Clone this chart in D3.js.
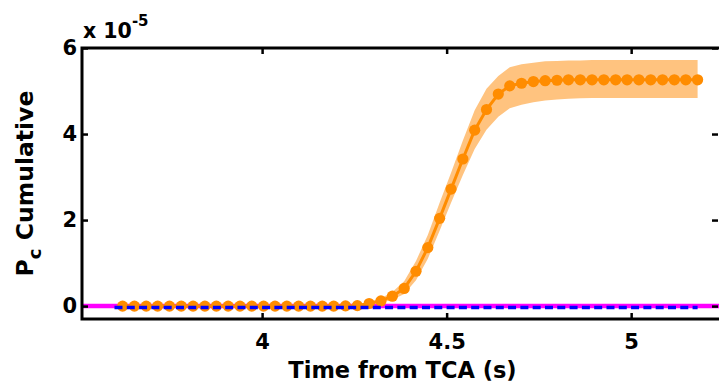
<!DOCTYPE html>
<html>
<head>
<meta charset="utf-8">
<script src="https://cdn.jsdelivr.net/npm/d3@7"></script>
<style>
  body { margin: 0; background: #fff; }
  text { font-family: "DejaVu Sans", "Liberation Sans", Arial, sans-serif; font-weight: bold; }
</style>
</head>
<body>
<script>
const width = 719;
const height = 386;

// time from TCA (s)
const times = [3.622, 3.654, 3.686, 3.717, 3.749, 3.781, 3.813, 3.845, 3.876, 3.908,
               3.940, 3.972, 4.004, 4.035, 4.067, 4.099, 4.131, 4.163, 4.194, 4.226,
               4.258, 4.290, 4.322, 4.353, 4.385, 4.417, 4.449, 4.481, 4.512, 4.544,
               4.576, 4.608, 4.640, 4.671, 4.703, 4.735, 4.767, 4.799, 4.830, 4.862,
               4.894, 4.926, 4.958, 4.989, 5.021, 5.053, 5.085, 5.117, 5.148, 5.180];

// cumulative Pc, units of 1e-5
const pcMean = [0, 0, 0, 0, 0, 0, 0, 0, 0, 0,
                0, 0, 0, 0, 0, 0, 0, 0, 0, 0.005,
                0.01, 0.06, 0.12, 0.23, 0.41, 0.81, 1.36, 2.04, 2.72, 3.42,
                4.09, 4.57, 4.93, 5.12, 5.18, 5.22, 5.24, 5.25, 5.26, 5.26,
                5.26, 5.26, 5.26, 5.26, 5.26, 5.26, 5.26, 5.26, 5.26, 5.26];
const pcLow  = [0, 0, 0, 0, 0, 0, 0, 0, 0, 0,
                0, 0, 0, 0, 0, 0, 0, 0, 0, 0,
                0, 0.03, 0.08, 0.15, 0.28, 0.6, 1.1, 1.75, 2.4, 3.05,
                3.65, 4.1, 4.4, 4.6, 4.68, 4.74, 4.78, 4.80, 4.82, 4.83,
                4.84, 4.84, 4.84, 4.84, 4.84, 4.84, 4.84, 4.84, 4.84, 4.84];
const pcHigh = [0, 0, 0, 0, 0, 0, 0, 0, 0, 0,
                0, 0, 0, 0, 0, 0, 0, 0, 0.005, 0.01,
                0.03, 0.10, 0.18, 0.33, 0.58, 1.05, 1.65, 2.4, 3.1, 3.85,
                4.55, 5.05, 5.35, 5.55, 5.62, 5.66, 5.69, 5.70, 5.71, 5.71,
                5.72, 5.72, 5.72, 5.72, 5.72, 5.72, 5.72, 5.72, 5.72, 5.72];

// reference lines (units of 1e-5)
const magentaLevel = [0];
const blueLevel = [0];
const blueSpan = [3.6, 5.18];

const xTicks = [4, 4.5, 5];
const yTicks = [0, 2, 4, 6];

const margin = { left: 82, top: 48, right: 0, bottom: 67 };

const x = d3.scaleLinear().domain([3.512, 5.238]).range([margin.left, width - margin.right]);
const y = d3.scaleLinear().domain([-0.3, 6]).range([height - margin.bottom, margin.top]);

const svg = d3.select('body')
              .append('svg')
              .attr('width', width)
              .attr('height', height);

const data = times.map((t, i) => ({ t: t, m: pcMean[i], lo: pcLow[i], hi: pcHigh[i] }));

// magenta line under everything
svg.append('line')
  .attr('x1', x.range()[0]).attr('x2', x.range()[1])
  .attr('y1', y(magentaLevel[0])).attr('y2', y(magentaLevel[0]))
  .attr('stroke', '#ff00ff')
  .attr('stroke-width', 4.5);

// confidence band
const area = d3.area()
  .x(d => x(d.t))
  .y0(d => y(d.lo))
  .y1(d => y(d.hi));
svg.append('path')
  .datum(data)
  .attr('d', area)
  .attr('fill', '#ffc37f');

// mean line + markers
const line = d3.line().x(d => x(d.t)).y(d => y(d.m));
svg.append('path')
  .datum(data)
  .attr('d', line)
  .attr('fill', 'none')
  .attr('stroke', '#ff8c00')
  .attr('stroke-width', 3);

svg.selectAll('circle.pt')
  .data(data)
  .enter()
  .append('circle')
  .attr('class', 'pt')
  .attr('cx', d => x(d.t))
  .attr('cy', d => y(d.m))
  .attr('r', 5.6)
  .attr('fill', '#ff8c00');

// blue dashed line on top
svg.append('line')
  .attr('x1', x(blueSpan[0])).attr('x2', x(blueSpan[1]))
  .attr('y1', y(blueLevel[0]) + 1.5).attr('y2', y(blueLevel[0]) + 1.5)
  .attr('stroke', '#0000ff')
  .attr('stroke-width', 3.5)
  .attr('stroke-dasharray', '8,4.3');

// axes box
const xAxisB = d3.axisBottom(x).tickValues(xTicks).tickSize(-6).tickPadding(15).tickFormat(d3.format('~g'));
const xAxisT = d3.axisTop(x).tickValues(xTicks).tickSize(-6).tickFormat('');
const yAxisL = d3.axisLeft(y).tickValues(yTicks).tickSize(-6).tickPadding(5).tickFormat(d3.format('d'));
const yAxisR = d3.axisRight(y).tickValues(yTicks).tickSize(-6).tickFormat('');

function styleAxis(g) {
  g.select('.domain').attr('d', null);
  g.selectAll('.tick line').attr('stroke', '#000').attr('stroke-width', 2.5);
  g.selectAll('.tick text').attr('fill', '#000').style('font-size', '21px');
}

svg.append('g').attr('transform', `translate(0,${y.range()[0]})`).call(xAxisB).call(styleAxis);
svg.append('g').attr('transform', `translate(0,${y.range()[1]})`).call(xAxisT).call(styleAxis);
svg.append('g').attr('transform', `translate(${x.range()[0]},0)`).call(yAxisL).call(styleAxis);
svg.append('g').attr('transform', `translate(${x.range()[1] - 1},0)`).call(yAxisR).call(styleAxis);

svg.append('rect')
  .attr('x', x.range()[0]).attr('y', y.range()[1])
  .attr('width', x.range()[1] - x.range()[0] + 2)
  .attr('height', y.range()[0] - y.range()[1])
  .attr('fill', 'none')
  .attr('stroke', '#000')
  .attr('stroke-width', 3);

// labels
svg.append('text')
  .attr('x', (x.range()[0] + x.range()[1]) / 2 + 2)
  .attr('y', 378)
  .attr('text-anchor', 'middle')
  .style('font-size', '22.5px')
  .text('Time from TCA (s)');

const ylab = svg.append('text')
  .attr('transform', `translate(33,${(y.range()[0] + y.range()[1]) / 2}) rotate(-90)`)
  .attr('text-anchor', 'middle')
  .style('font-size', '23.5px');
ylab.append('tspan').text('P');
ylab.append('tspan').text('c').attr('dy', 8).style('font-size', '18px');
ylab.append('tspan').text(' Cumulative').attr('dy', -8);

const expo = svg.append('text')
  .attr('x', 83)
  .attr('y', 38)
  .style('font-size', '20.5px');
expo.append('tspan').text('x 10');
expo.append('tspan').text('-5').attr('dy', -12).style('font-size', '15px');
</script>
</body>
</html>
